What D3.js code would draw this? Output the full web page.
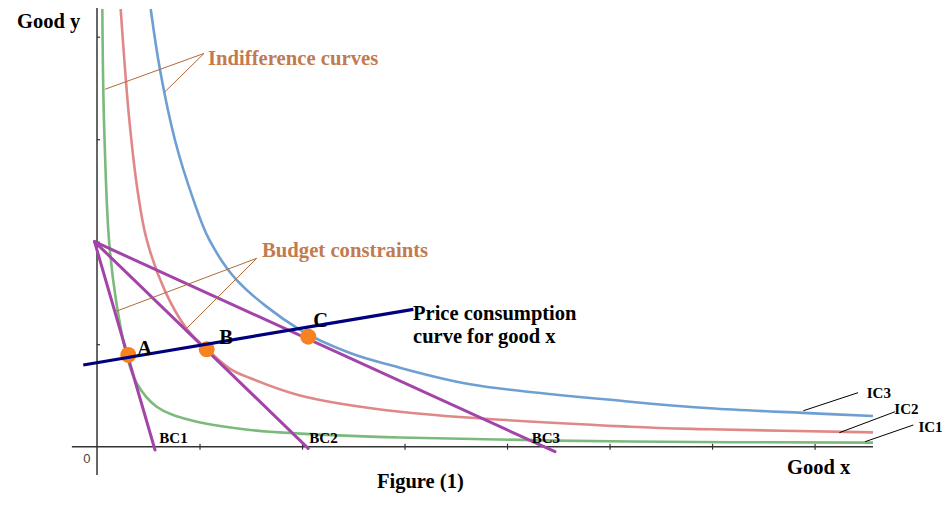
<!DOCTYPE html>
<html>
<head>
<meta charset="utf-8">
<script src="https://cdn.jsdelivr.net/npm/d3@7"></script>
<style>
  html, body { margin: 0; padding: 0; background: #fff; }
  svg { display: block; }
  .serif { font-family: "Liberation Serif", "Times New Roman", serif; font-weight: bold; }
</style>
</head>
<body>
<svg id="chart" width="948" height="507"></svg>
<script>
// ---------------- DATA (data units = axis tick units) ----------------
const xTicks = [1, 2, 3, 4, 5, 6, 7];
const yTicks = [1, 2, 3, 4];

// Indifference curves
const ic1X = [0.052, 0.068, 0.117, 0.185, 0.29, 0.387, 0.582, 0.907, 1.493, 1.98, 2.956, 5.2, 7.57];
const ic1Y = [4.27, 3.19, 2.017, 1.431, 0.89, 0.619, 0.39, 0.26, 0.163, 0.128, 0.09, 0.05, 0.04];
const ic2X = [0.231, 0.315, 0.40, 0.485, 0.663, 0.875, 1.07, 1.298, 1.493, 1.98, 2.956, 5.2, 5.98, 7.57];
const ic2Y = [4.27, 3.19, 2.47, 2.02, 1.52, 1.15, 0.953, 0.76, 0.67, 0.50, 0.341, 0.195, 0.17, 0.14];
const ic3X = [0.524, 0.615, 0.761, 0.94, 1.096, 1.363, 1.98, 2.468, 2.859, 3.64, 5.2, 5.98, 6.888, 7.57];
const ic3Y = [4.27, 3.675, 2.99, 2.41, 2.017, 1.626, 1.139, 0.914, 0.797, 0.61, 0.439, 0.375, 0.33, 0.30];

// Budget constraints: common pivot on the y axis, different x ends
const bcPivot = [-0.024, 2.0];
const bcEndX = [0.566, 2.06, 4.468];
const bcEndY = [-0.032, -0.016, -0.049];
const bcNames = ["BC1", "BC2", "BC3"];
const bcLabelX = [0.608, 2.071, 4.241];
const bcLabelY = [0.033, 0.033, 0.033];

// Price consumption curve
const pccX = [-0.134, 3.086];
const pccY = [0.797, 1.34];

// Optimal points
const ptNames = ["A", "B", "C"];
const ptX = [0.305, 1.07, 2.061];
const ptY = [0.895, 0.95, 1.073];
const ptLabelX = [0.393, 1.193, 2.11];
const ptLabelY = [0.895, 1.002, 1.165];

// IC labels and their leader lines
const icNames = ["IC1", "IC2", "IC3"];
const icLabelX = [8.013, 7.778, 7.509];
const icLabelY = [0.146, 0.316, 0.472];
const icLeadFrom = [[7.964, 0.212], [7.785, 0.341], [7.424, 0.527]];
const icLeadTo = [[7.493, 0.049], [7.242, 0.137], [6.891, 0.351]];

// Annotations
const indiffText = "Indifference curves";
const indiffAnchor = [1.083, 3.724];
const indiffFrom = [1.044, 3.837];
const indiffTo = [[0.078, 3.487], [0.663, 3.463]];
const budgetText = "Budget constraints";
const budgetAnchor = [1.61, 1.848];
const budgetFrom = [1.558, 1.838];
const budgetTo = [[0.176, 1.317], [0.875, 1.155]];
const pccText = ["Price consumption", "curve for good x"];
const pccAnchor = [[3.083, 1.236], [3.083, 1.009]];

// ---------------- LAYOUT ----------------
const svg = d3.select("#chart");
const x = d3.scaleLinear().domain([0, 7.57]).range([97, 873]);
const y = d3.scaleLinear().domain([0, 4.28]).range([446.7, 8]);

const colIC = ["#7cb97c", "#e08787", "#6e9fd3"];
const purple = "#a344a9";
const navy = "#00007f";
const orange = "#f7821f";
const brown = "#c27b4f";
const axisCol = "#333333";

// ---------------- AXES ----------------
const gx = svg.append("g").attr("transform", `translate(0,${y(0)})`)
  .call(d3.axisBottom(x).tickValues(xTicks).tickSize(3).tickFormat(""));
gx.select(".domain").remove();
gx.selectAll(".tick line").attr("y1", -3).attr("y2", 3).attr("stroke", axisCol).attr("stroke-width", 1.2);
svg.append("line").attr("x1", x(-0.245)).attr("x2", x(7.57)).attr("y1", y(0)).attr("y2", y(0))
  .attr("stroke", axisCol).attr("stroke-width", 1.5);

const gy = svg.append("g").attr("transform", `translate(${x(0)},0)`)
  .call(d3.axisRight(y).tickValues(yTicks).tickSize(3).tickFormat(""));
gy.select(".domain").remove();
gy.selectAll(".tick line").attr("stroke", axisCol).attr("stroke-width", 1.2);
svg.append("line").attr("x1", x(0)).attr("x2", x(0)).attr("y1", y(4.28)).attr("y2", y(-0.275))
  .attr("stroke", axisCol).attr("stroke-width", 1.5);

svg.append("text").attr("x", x(-0.1)).attr("y", 463).attr("text-anchor", "middle")
  .attr("font-family", "Liberation Sans, Arial, sans-serif").attr("font-size", 13).attr("fill", "#444")
  .text("0");

// ---------------- INDIFFERENCE CURVES ----------------
const line = d3.line().x(d => x(d[0])).y(d => y(d[1])).curve(d3.curveCatmullRom.alpha(0.5));
const icData = [d3.zip(ic1X, ic1Y), d3.zip(ic2X, ic2Y), d3.zip(ic3X, ic3Y)];
svg.append("g").selectAll("path").data(icData).join("path")
  .attr("d", line).attr("fill", "none")
  .attr("stroke", (d, i) => colIC[i]).attr("stroke-width", 2.6);

// ---------------- BUDGET CONSTRAINTS ----------------
svg.append("g").selectAll("line").data(bcEndX).join("line")
  .attr("x1", x(bcPivot[0])).attr("y1", y(bcPivot[1]))
  .attr("x2", (d) => x(d)).attr("y2", (d, i) => y(bcEndY[i]))
  .attr("stroke", purple).attr("stroke-width", 3).attr("stroke-linecap", "round");

svg.append("g").selectAll("text").data(bcNames).join("text")
  .attr("class", "serif").attr("font-size", 15).attr("fill", "#000")
  .attr("x", (d, i) => x(bcLabelX[i])).attr("y", (d, i) => y(bcLabelY[i]))
  .text(d => d);

// ---------------- POINTS ----------------
svg.append("g").selectAll("circle").data(ptX).join("circle")
  .attr("cx", d => x(d)).attr("cy", (d, i) => y(ptY[i])).attr("r", 8)
  .attr("fill", orange);

// ---------------- PRICE CONSUMPTION CURVE ----------------
svg.append("line")
  .attr("x1", x(pccX[0])).attr("y1", y(pccY[0]))
  .attr("x2", x(pccX[1])).attr("y2", y(pccY[1]))
  .attr("stroke", navy).attr("stroke-width", 3.2);

svg.append("g").selectAll("text").data(ptNames).join("text")
  .attr("class", "serif").attr("font-size", 20.5).attr("fill", "#000")
  .attr("x", (d, i) => x(ptLabelX[i])).attr("y", (d, i) => y(ptLabelY[i]))
  .text(d => d);

svg.append("g").selectAll("text").data(pccText).join("text")
  .attr("class", "serif").attr("font-size", 20.5).attr("fill", "#000")
  .attr("x", (d, i) => x(pccAnchor[i][0])).attr("y", (d, i) => y(pccAnchor[i][1]))
  .text(d => d);

// ---------------- IC LABELS ----------------
svg.append("g").selectAll("line").data(icLeadFrom).join("line")
  .attr("x1", d => x(d[0])).attr("y1", d => y(d[1]))
  .attr("x2", (d, i) => x(icLeadTo[i][0])).attr("y2", (d, i) => y(icLeadTo[i][1]))
  .attr("stroke", "#000").attr("stroke-width", 1);
svg.append("g").selectAll("text").data(icNames).join("text")
  .attr("class", "serif").attr("font-size", 15).attr("fill", "#000")
  .attr("x", (d, i) => x(icLabelX[i])).attr("y", (d, i) => y(icLabelY[i]))
  .text(d => d);

// ---------------- ANNOTATIONS ----------------
function annot(from, tos, anchor, txt) {
  const g = svg.append("g");
  g.selectAll("line").data(tos).join("line")
    .attr("x1", x(from[0])).attr("y1", y(from[1]))
    .attr("x2", d => x(d[0])).attr("y2", d => y(d[1]))
    .attr("stroke", "#b0693c").attr("stroke-width", 1);
  g.append("text").attr("class", "serif").attr("font-size", 20.7).attr("fill", brown)
    .attr("x", x(anchor[0])).attr("y", y(anchor[1])).text(txt);
}
annot(indiffFrom, indiffTo, indiffAnchor, indiffText);
annot(budgetFrom, budgetTo, budgetAnchor, budgetText);

// ---------------- AXIS TITLES ----------------
svg.append("text").attr("class", "serif").attr("font-size", 20.5).attr("x", 17).attr("y", 27.5).text("Good y");
svg.append("text").attr("class", "serif").attr("font-size", 20.5).attr("x", 787).attr("y", 473.5).text("Good x");
svg.append("text").attr("class", "serif").attr("font-size", 20.5).attr("x", 377).attr("y", 487.5).text("Figure (1)");
</script>
</body>
</html>
